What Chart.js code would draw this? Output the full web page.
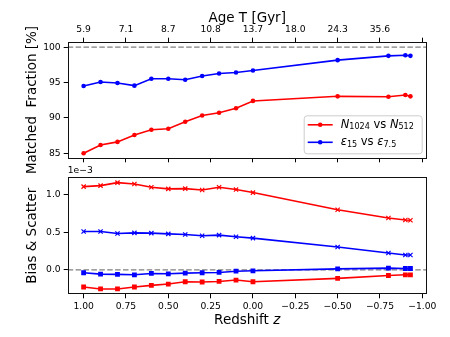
<!DOCTYPE html>
<html><head><meta charset="utf-8">
<script src="https://cdn.jsdelivr.net/npm/chart.js@4.4.0/dist/chart.umd.min.js"></script>
<style>
html,body{margin:0;padding:0;background:#fff;}
#wrap{position:relative;width:450px;height:337px;overflow:hidden;}
#c1{position:absolute;left:0;top:0;z-index:2;}
#c2{position:absolute;left:0;top:165px;z-index:1;}
</style></head><body>
<div id="wrap"><canvas id="c1" width="450" height="195"></canvas><canvas id="c2" width="450" height="172"></canvas></div>
<script>
// ---- data ----
const redshift   = [1.0, 0.9, 0.8, 0.7, 0.6, 0.5, 0.4, 0.3, 0.2, 0.1, 0.0, -0.5, -0.8, -0.9, -0.93];
const matchedN   = [85.0, 86.16, 86.6, 87.57, 88.32, 88.46, 89.45, 90.34, 90.72, 91.37, 92.4, 93.05, 93.0, 93.24, 93.05];
const matchedEps = [94.51, 95.07, 94.93, 94.56, 95.54, 95.54, 95.4, 95.92, 96.29, 96.43, 96.71, 98.17, 98.78, 98.87, 98.78];
// bottom panel values in units of 1e-3
const scatterN   = [1.105, 1.118, 1.158, 1.14, 1.096, 1.075, 1.079, 1.061, 1.096, 1.066, 1.026, 0.798, 0.689, 0.662, 0.658];
const scatterEps = [0.509, 0.509, 0.482, 0.491, 0.487, 0.478, 0.469, 0.452, 0.461, 0.439, 0.421, 0.303, 0.224, 0.197, 0.197];
const biasN      = [-0.228, -0.254, -0.254, -0.228, -0.206, -0.189, -0.158, -0.162, -0.154, -0.136, -0.158, -0.114, -0.075, -0.066, -0.066];
const biasEps    = [-0.039, -0.057, -0.061, -0.066, -0.048, -0.053, -0.044, -0.039, -0.035, -0.018, -0.013, 0.013, 0.022, 0.018, 0.018];
const zTicks        = [1.0, 0.75, 0.5, 0.25, 0.0, -0.25, -0.5, -0.75, -1.0];
const ageTickLabels = ['5.9', '7.1', '8.7', '10.8', '13.7', '18.0', '24.3', '35.6', ''];
const fracTicks     = [85, 90, 95, 100];
const biasTicks     = [0.0, 0.5, 1.0];

// ---- style ----
const FONT = 'DejaVu Sans';
Chart.defaults.font.family = FONT;
Chart.defaults.font.size = 9.2;
Chart.defaults.color = '#000';
const XMIN = -1.026, XMAX = 1.094;
const RED = '#ff0000', BLUE = '#0000ff';
const LABEL_FONT = {family: FONT, size: 13.5};

function pts(ys){ return redshift.map((z,i)=>({x:z, y:ys[i]})); }
function fmtZ(v){ return (v < -1e-9 ? '\u2212' : '') + Math.abs(v).toFixed(2); }
function setTicks(vals){ return s => { s.ticks = vals.map(v=>({value:v})); }; }
const tickGrid = {drawOnChartArea:false, drawTicks:true, tickLength:4, color:'#000', lineWidth:1};

const framePlugin = {
  id:'frame',
  afterDatasetsDraw(chart){
    const {ctx, chartArea:a} = chart;
    ctx.save(); ctx.strokeStyle = '#111'; ctx.lineWidth = 1;
    ctx.strokeRect(Math.round(a.left)+0.5, Math.round(a.top)+0.5, Math.round(a.right-a.left)-1, Math.round(a.bottom-a.top)-1);
    ctx.restore();
  }
};
function dashPlugin(val){
  return {
    id:'dash'+val,
    beforeDatasetsDraw(chart){
      const {ctx, chartArea:a, scales} = chart;
      const y = scales.y.getPixelForValue(val);
      ctx.save(); ctx.strokeStyle = '#808080'; ctx.lineWidth = 1.3; ctx.setLineDash([5.5,2.4]);
      ctx.beginPath(); ctx.moveTo(a.left, y); ctx.lineTo(a.right, y); ctx.stroke(); ctx.restore();
    }
  };
}
function richWidth(ctx, segs, size){
  let w = 0;
  for (const s of segs){
    const fs = s.sub ? size*0.7 : size;
    ctx.font = (s.it ? 'italic ' : '') + fs + 'px ' + FONT;
    w += ctx.measureText(s.t).width;
  }
  return w;
}
function drawRich(ctx, x, y, segs, size){
  let cx = x;
  for (const s of segs){
    const fs = s.sub ? size*0.7 : size;
    ctx.font = (s.it ? 'italic ' : '') + fs + 'px ' + FONT;
    const dy = s.sub ? size*0.22 : 0;
    ctx.fillText(s.t, cx, y + dy);
    cx += ctx.measureText(s.t).width;
  }
}
const legendItems = [
  {color:RED,  segs:[{t:'N',it:true},{t:'1024',sub:true},{t:' vs '},{t:'N',it:true},{t:'512',sub:true}]},
  {color:BLUE, segs:[{t:'\u03b5',it:true},{t:'15',sub:true},{t:' vs '},{t:'\u03b5',it:true},{t:'7.5',sub:true}]}
];
const legendPlugin = {
  id:'richLegend',
  afterDraw(chart){
    const {ctx, chartArea:a} = chart;
    const w = 118, h = 38;
    const x0 = a.right - 5 - w, y0 = a.bottom - 5 - h;
    ctx.save();
    ctx.beginPath();
    if (ctx.roundRect) ctx.roundRect(x0+0.5, y0+0.5, w, h, 3); else ctx.rect(x0+0.5,y0+0.5,w,h);
    ctx.fillStyle = 'rgba(255,255,255,0.8)'; ctx.fill();
    ctx.strokeStyle = '#cccccc'; ctx.lineWidth = 1; ctx.stroke();
    legendItems.forEach((it, i) => {
      const cy = y0 + 9.5 + i*17.5;
      ctx.strokeStyle = it.color; ctx.lineWidth = 1.6;
      ctx.beginPath(); ctx.moveTo(x0+4, cy); ctx.lineTo(x0+29, cy); ctx.stroke();
      ctx.fillStyle = it.color; ctx.beginPath(); ctx.arc(x0+16.5, cy, 2.3, 0, Math.PI*2); ctx.fill();
      ctx.fillStyle = '#000'; ctx.textBaseline = 'middle'; ctx.textAlign = 'left';
      drawRich(ctx, x0+37, cy, it.segs, 11.5);
    });
    ctx.restore();
  }
};
const offsetLabelPlugin = {
  id:'offsetLabel',
  afterDraw(chart){
    const {ctx, chartArea:a} = chart;
    ctx.save(); ctx.fillStyle = '#000'; ctx.font = '9.2px ' + FONT;
    ctx.textAlign = 'left'; ctx.textBaseline = 'bottom';
    ctx.fillText('1e\u22123', a.left, a.top - 2);
    ctx.restore();
  }
};
const xTitleSegs = [{t:'Redshift '},{t:'z', it:true}];
const xTitlePlugin = {
  id:'xTitle',
  afterDraw(chart){
    const {ctx, chartArea:a} = chart;
    ctx.save(); ctx.fillStyle = '#000'; ctx.textAlign = 'left'; ctx.textBaseline = 'middle';
    const w = richWidth(ctx, xTitleSegs, 13.5);
    drawRich(ctx, (a.left + a.right)/2 - w/2, chart.height - 17, xTitleSegs, 13.5);
    ctx.restore();
  }
};

// ---- top panel ----
new Chart(document.getElementById('c1'), {
  type:'line',
  data:{datasets:[
    {label:'N1024 vs N512', data:pts(matchedN), borderColor:RED, backgroundColor:RED, borderWidth:1.6, pointRadius:2.3, pointBorderWidth:0, pointStyle:'circle', tension:0},
    {label:'eps15 vs eps7.5', data:pts(matchedEps), borderColor:BLUE, backgroundColor:BLUE, borderWidth:1.6, pointRadius:2.3, pointBorderWidth:0, pointStyle:'circle', tension:0}
  ]},
  options:{
    responsive:false, animation:false, events:[],
    layout:{padding:{left:0, right:23.3, top:0, bottom:0}},
    plugins:{legend:{display:false}, tooltip:{enabled:false}},
    scales:{
      x:{type:'linear', position:'bottom', min:XMIN, max:XMAX, reverse:true,
         afterBuildTicks:setTicks(zTicks), ticks:{display:false}, grid:tickGrid, border:{display:false},
         afterFit:s=>{s.height = 195 - 158.3;}},
      xTop:{type:'linear', position:'top', min:XMIN, max:XMAX, reverse:true,
         afterBuildTicks:setTicks(zTicks),
         ticks:{callback:(v,i)=>ageTickLabels[i], padding:3, maxRotation:0, autoSkip:false},
         grid:tickGrid, border:{display:false},
         title:{display:true, text:'Age T [Gyr]', font:LABEL_FONT, padding:{top:10, bottom:0}},
         afterFit:s=>{s.height = 41.7;}},
      y:{type:'linear', position:'left', min:84.28, max:100.78,
         afterBuildTicks:setTicks(fracTicks),
         ticks:{padding:3, callback:v=>String(v)}, grid:tickGrid, border:{display:false},
         title:{display:true, text:'Matched  Fraction [%]', font:LABEL_FONT, padding:{top:24, bottom:0}},
         afterFit:s=>{s.width = 67.7;}}
    }
  },
  plugins:[dashPlugin(100), framePlugin, legendPlugin]
});

// ---- bottom panel ----
new Chart(document.getElementById('c2'), {
  type:'line',
  data:{datasets:[
    {label:'scatter N', data:pts(scatterN), borderColor:RED, backgroundColor:RED, borderWidth:1.6, pointRadius:3, pointBorderWidth:1.2, pointStyle:'crossRot'},
    {label:'scatter eps', data:pts(scatterEps), borderColor:BLUE, backgroundColor:BLUE, borderWidth:1.6, pointRadius:3, pointBorderWidth:1.2, pointStyle:'crossRot'},
    {label:'bias N', data:pts(biasN), borderColor:RED, backgroundColor:RED, borderWidth:1.6, pointRadius:3.4, pointBorderWidth:0, pointStyle:'rect'},
    {label:'bias eps', data:pts(biasEps), borderColor:BLUE, backgroundColor:BLUE, borderWidth:1.6, pointRadius:3.4, pointBorderWidth:0, pointStyle:'rect'}
  ]},
  options:{
    responsive:false, animation:false, events:[],
    layout:{padding:{left:0, right:23.3, top:12.3, bottom:0}},
    plugins:{legend:{display:false}, tooltip:{enabled:false}},
    scales:{
      x:{type:'linear', position:'bottom', min:XMIN, max:XMAX, reverse:true,
         afterBuildTicks:setTicks(zTicks),
         ticks:{callback:v=>fmtZ(v), padding:3, maxRotation:0, autoSkip:false},
         grid:tickGrid, border:{display:false},
         afterFit:s=>{s.height = 42.7;}},
      y:{type:'linear', position:'left', min:-0.325, max:1.229,
         afterBuildTicks:setTicks(biasTicks),
         ticks:{padding:3, callback:v=>v.toFixed(1)}, grid:tickGrid, border:{display:false},
         title:{display:true, text:'Bias & Scatter', font:LABEL_FONT, padding:{top:24, bottom:0}},
         afterFit:s=>{s.width = 67.7;}}
    }
  },
  plugins:[dashPlugin(0), framePlugin, offsetLabelPlugin, xTitlePlugin]
});
</script>
</body></html>
